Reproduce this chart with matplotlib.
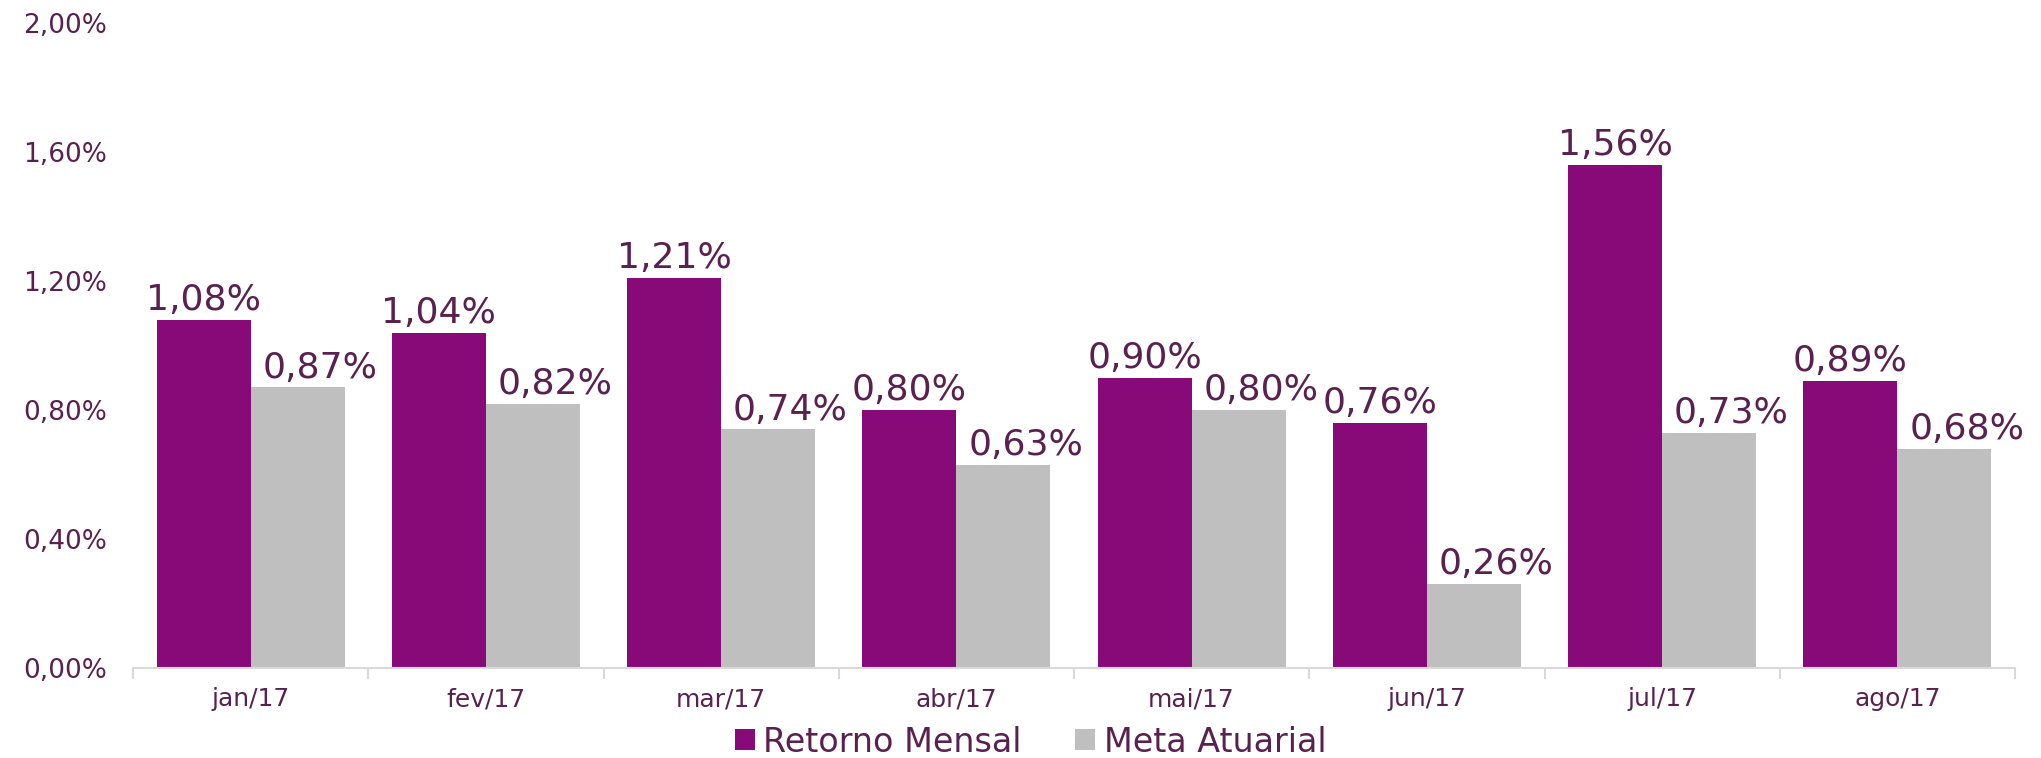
import numpy as np
import matplotlib.pyplot as plt
from matplotlib.ticker import FuncFormatter, FixedLocator

# Chart data
months = ["jan/17", "fev/17", "mar/17", "abr/17", "mai/17", "jun/17", "jul/17", "ago/17"]
retorno_mensal = [1.08, 1.04, 1.21, 0.80, 0.90, 0.76, 1.56, 0.89]
meta_atuarial = [0.87, 0.82, 0.74, 0.63, 0.80, 0.26, 0.73, 0.68]
y_ticks = [0.0, 0.4, 0.8, 1.2, 1.6, 2.0]

purple = "#880a78"
gray = "#bfbfbf"
text_color = "#5a2150"

plt.rcParams['font.family'] = ['DejaVu Sans']

fig = plt.figure(figsize=(20.41, 7.58), dpi=100)
ax = fig.add_axes([133 / 2041, 1 - 668 / 758, (2015 - 133) / 2041, (668 - 23) / 758])

x = np.arange(len(months))
w = 0.4
bars1 = ax.bar(x - w / 2, retorno_mensal, w, color=purple, label="Retorno Mensal")
bars2 = ax.bar(x + w / 2, meta_atuarial, w, color=gray, label="Meta Atuarial")

def pct(v):
    return f"{v:.2f}%".replace(".", ",")

# value labels above each bar (gray ones sit a bit to the right, like the original)
for bars, vals, dx in ((bars1, retorno_mensal, 0), (bars2, meta_atuarial, 16)):
    for b, v in zip(bars, vals):
        ax.annotate(pct(v), (b.get_x() + b.get_width() / 2, v),
                    xytext=(dx, 2), textcoords="offset points",
                    ha="center", va="bottom", fontsize=26, color=text_color)

ax.set_xlim(-0.5, len(months) - 0.5)
ax.set_ylim(0, 2.0)
ax.set_yticks(y_ticks)
ax.yaxis.set_major_formatter(FuncFormatter(lambda v, _: pct(v)))
ax.set_xticks(x)
ax.set_xticklabels(months)
ax.xaxis.set_minor_locator(FixedLocator(np.arange(-0.5, len(months), 1.0)))

ax.tick_params(axis="x", which="major", length=0, labelsize=18, labelcolor=text_color, pad=14)
ax.tick_params(axis="x", which="minor", length=8, color="#d9d9d9", width=1.5)
ax.tick_params(axis="y", length=0, labelsize=19, labelcolor=text_color, pad=79)
for lbl in ax.get_yticklabels():
    lbl.set_horizontalalignment("left")

for side in ("top", "right", "left"):
    ax.spines[side].set_visible(False)
ax.spines["bottom"].set_color("#d9d9d9")
ax.spines["bottom"].set_linewidth(1.5)

leg = fig.legend(loc="center", bbox_to_anchor=(0.505, 1 - 742 / 758), ncol=2, frameon=False,
                 fontsize=24, handlelength=0.6, handleheight=0.6, handletextpad=0.25,
                 columnspacing=1.6)
for t in leg.get_texts():
    t.set_color(text_color)

fig.savefig("out.png", dpi=100)
